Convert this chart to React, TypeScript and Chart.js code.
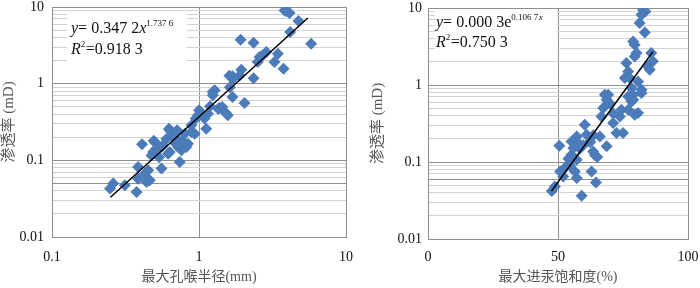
import React, { useEffect, useRef } from 'react';
import { Chart, registerables } from 'chart.js';

Chart.register(...registerables);

// ---------- Data (left chart: max pore-throat radius vs permeability) ----------
const poreRadius = [
  0.248, 0.261, 0.313, 0.376, 0.385, 0.385, 0.41, 0.428, 0.451, 0.463,
  0.44, 0.475, 0.487, 0.5, 0.492, 0.513, 0.535, 0.556, 0.556, 0.569,
  0.6, 0.616, 0.625, 0.632, 0.632, 0.667, 0.684, 0.695, 0.71, 0.72,
  0.74, 0.76, 0.771, 0.778, 0.8, 0.82, 0.842, 0.887, 0.888, 0.935,
  0.95, 0.985, 1.0, 1.04, 1.09, 1.12, 1.15, 1.19, 1.24, 1.24,
  1.28, 1.35, 1.38, 1.44, 1.53, 1.57, 1.62, 1.61, 1.69, 1.7,
  1.69, 1.89, 1.94, 2.04, 1.92, 2.35, 2.35, 2.51, 2.58, 2.87,
  2.72, 3.26, 3.44, 3.76, 3.82, 4.13, 3.95, 4.17, 4.75, 5.79,
];
const permeabilityA = [
  0.0428, 0.0497, 0.0472, 0.0386, 0.0577, 0.0818, 0.162, 0.067, 0.074, 0.055,
  0.052, 0.116, 0.128, 0.173, 0.18, 0.142, 0.11, 0.078, 0.149, 0.157,
  0.19, 0.122, 0.259, 0.246, 0.128, 0.202, 0.201, 0.165, 0.246, 0.149,
  0.095, 0.135, 0.18, 0.157, 0.223, 0.149, 0.165, 0.234, 0.286, 0.223,
  0.35, 0.386, 0.449, 0.406, 0.35, 0.259, 0.406, 0.506, 0.705, 0.78,
  0.82, 0.47, 0.48, 0.497, 0.41, 0.386, 0.9, 1.27, 1.25, 1.16,
  0.67, 1.28, 1.52, 0.56, 3.75, 3.42, 1.18, 1.92, 2.22, 2.58,
  2.34, 1.91, 2.46, 1.57, 9.03, 8.33, 8.8, 4.71, 6.55, 3.32,
];
const trendAX = [0.25, 5.5];
const trendAY = [0.033, 7.2];

// ---------- Data (right chart: max mercury saturation vs permeability) ----------
const saturation = [
  47.6, 48.8, 50.5, 50.8, 52.0, 52.7, 54.0, 55.2, 55.2, 55.9,
  56.5, 57.2, 57.2, 57.2, 57.8, 58.4, 59.1, 59.7, 60.3, 61.0,
  62.3, 62.9, 63.5, 64.2, 64.6, 65.1, 66.1, 66.7, 67.4, 68.7,
  68.7, 68.0, 69.3, 70.0, 71.2, 71.2, 72.5, 73.8, 74.4, 75.0,
  75.7, 76.3, 77.0, 77.0, 77.0, 77.6, 78.3, 78.3, 78.9, 78.9,
  78.9, 79.5, 79.5, 79.5, 80.2, 80.8, 80.8, 81.4, 82.1, 82.7,
  82.1, 82.1, 83.4, 83.6, 84.6, 85.3, 85.9, 86.5, 62.3, 63.6,
  54.6,
];
const permeabilityB = [
  0.042, 0.048, 0.163, 0.075, 0.065, 0.084, 0.11, 0.185, 0.124, 0.152,
  0.075, 0.215, 0.107, 0.062, 0.177, 0.149, 0.0365, 0.165, 0.305, 0.226,
  0.185, 0.075, 0.137, 0.122, 0.054, 0.116, 0.215, 0.391, 0.503, 0.16,
  0.644, 0.748, 0.748, 0.577, 0.321, 0.427, 0.238, 0.391, 0.478, 0.238,
  1.23, 1.93, 1.5, 0.478, 0.711, 1.23, 0.612, 0.914, 0.748, 3.68,
  0.644, 3.34, 2.35, 0.411, 2.6, 0.433, 1.11, 6.38, 8.19, 9.5,
  0.787, 0.869, 4.82, 9.0, 1.74, 1.58, 2.6, 2.03, 0.18, 0.223,
  0.09,
];
const trendBX = [47.5, 86.5];
const trendBY = [0.042, 2.7];

// ---------- Axis ticks / labels ----------
const yDecades = [0.01, 0.1, 1, 10];
const xTicksA = [0.1, 1, 10];
const xTicksB = [0, 50, 100];
const xTitleA = '最大孔喉半径(mm)';
const xTitleB = '最大进汞饱和度(%)';
const yTitle = '渗透率 (mD)';

const SERIF = "'Liberation Serif', 'Noto Sans CJK SC', serif";
const MAJOR = '#8e8e8e';
const MINOR = '#d3d3d3';
const POINT = '#4C7BBA';

const logGridValues = (decades: number[]) => {
  const out: number[] = [];
  for (let i = 0; i < decades.length - 1; i++) {
    for (let m = 1; m < 10; m++) out.push(Number((decades[i] * m).toPrecision(6)));
  }
  out.push(decades[decades.length - 1]);
  return out;
};
const isDecade = (v: number) => {
  const l = Math.log10(v);
  return Math.abs(l - Math.round(l)) < 1e-6;
};

type Seg = { t: string; i?: boolean; sup?: boolean };
type EqLine = { x: number; y: number; segs: Seg[] };

const equationPlugin = (box: { x: number; y: number; w: number; h: number }, lines: EqLine[]) => ({
  id: 'equationBox',
  beforeDatasetsDraw(chart: any) {
    const ctx = chart.ctx as CanvasRenderingContext2D;
    ctx.save();
    ctx.fillStyle = '#ffffff';
    ctx.fillRect(box.x, box.y, box.w, box.h);
    ctx.fillStyle = '#111111';
    ctx.textBaseline = 'alphabetic';
    ctx.textAlign = 'left';
    lines.forEach((line) => {
      let x = line.x;
      line.segs.forEach((s) => {
        const size = s.sup ? 9 : 16;
        ctx.font = `${s.i ? 'italic ' : ''}${size}px 'Liberation Serif', serif`;
        ctx.fillText(s.t, x, line.y - (s.sup ? 7 : 0));
        x += ctx.measureText(s.t).width + (s.sup ? 0.5 : 0);
      });
    });
    ctx.restore();
  },
});

const points = (xs: number[], ys: number[]) => xs.map((x, i) => ({ x, y: ys[i] }));

function buildConfig(p: {
  xType: 'logarithmic' | 'linear';
  xMin: number;
  xMax: number;
  xTicks: number[];
  xTitle: string;
  xs: number[];
  ys: number[];
  tx: number[];
  ty: number[];
  padTop: number;
  padRight: number;
  yWidth: number;
  xHeight: number;
  yTickPad: number;
  xTickPad: number;
  yTitlePad: number;
  emphasis: number;
  plugin: any;
}) {
  const yGrid = logGridValues(yDecades);
  return {
    type: 'scatter',
    data: {
      datasets: [
        {
          data: points(p.tx, p.ty),
          showLine: true,
          borderColor: '#000000',
          borderWidth: 1.5,
          pointRadius: 0,
          fill: false,
        },
        {
          data: points(p.xs, p.ys),
          pointStyle: 'rectRot',
          pointRadius: 6,
          backgroundColor: POINT,
          borderColor: POINT,
          borderWidth: 0,
        },
      ],
    },
    options: {
      responsive: false,
      animation: false,
      devicePixelRatio: 1,
      events: [],
      layout: { padding: { left: 0, top: p.padTop, right: p.padRight, bottom: 0 }, autoPadding: false },
      plugins: { legend: { display: false }, tooltip: { enabled: false } },
      scales: {
        x: {
          type: p.xType,
          min: p.xMin,
          max: p.xMax,
          afterBuildTicks: (s: any) => {
            s.ticks = p.xTicks.map((v) => ({ value: v }));
          },
          afterFit: (s: any) => {
            s.height = p.xHeight;
            s.paddingLeft = 0;
            s.paddingRight = 0;
          },
          ticks: {
            autoSkip: false,
            maxRotation: 0,
            padding: p.xTickPad,
            color: '#111111',
            font: { family: SERIF, size: 14 },
            callback: (v: any) => String(v),
          },
          grid: { color: MAJOR, drawTicks: false, lineWidth: 1 },
          border: { color: MAJOR, width: 1 },
          title: {
            display: true,
            text: p.xTitle,
            color: '#555555',
            font: { family: SERIF, size: 14 },
            padding: { top: 0, bottom: 2 },
          },
        },
        y: {
          type: 'logarithmic',
          min: 0.01,
          max: 10,
          afterBuildTicks: (s: any) => {
            s.ticks = yGrid.map((v) => ({ value: v }));
          },
          afterFit: (s: any) => {
            s.width = p.yWidth;
            s.paddingTop = 0;
            s.paddingBottom = 0;
          },
          ticks: {
            autoSkip: false,
            padding: p.yTickPad,
            color: '#111111',
            font: { family: SERIF, size: 14 },
            callback: (v: any) => (isDecade(Number(v)) ? String(v) : ''),
          },
          grid: {
            drawTicks: false,
            lineWidth: 1,
            color: (ctx: any) => {
              const v = ctx.tick ? ctx.tick.value : undefined;
              if (v === undefined) return MINOR;
              if (isDecade(v) || Math.abs(v - p.emphasis) < 1e-9) return MAJOR;
              return MINOR;
            },
          },
          border: { color: MAJOR, width: 1 },
          title: {
            display: true,
            text: yTitle,
            color: '#555555',
            font: { family: SERIF, size: 15 },
            padding: { top: p.yTitlePad, bottom: 0 },
          },
        },
      },
    },
    plugins: [p.plugin],
  } as any;
}

export default function App() {
  const leftRef = useRef<HTMLCanvasElement | null>(null);
  const rightRef = useRef<HTMLCanvasElement | null>(null);

  useEffect(() => {
    if (!leftRef.current || !rightRef.current) return;
    const left = new Chart(
      leftRef.current,
      buildConfig({
        xType: 'logarithmic',
        xMin: 0.1,
        xMax: 10,
        xTicks: xTicksA,
        xTitle: xTitleA,
        xs: poreRadius,
        ys: permeabilityA,
        tx: trendAX,
        ty: trendAY,
        padTop: 7,
        padRight: 14,
        yWidth: 52,
        xHeight: 51,
        yTickPad: 8,
        xTickPad: 12,
        yTitlePad: 0,
        emphasis: 0.05,
        plugin: equationPlugin({ x: 67, y: 11, w: 120, h: 50 }, [
          { x: 71, y: 33, segs: [{ t: 'y', i: true }, { t: '= 0.347 2' }, { t: 'x', i: true }, { t: '1.737 6', sup: true }] },
          { x: 71, y: 54, segs: [{ t: 'R', i: true }, { t: '2', sup: true }, { t: '=0.918 3' }] },
        ]),
      })
    );
    const right = new Chart(
      rightRef.current,
      buildConfig({
        xType: 'linear',
        xMin: 0,
        xMax: 100,
        xTicks: xTicksB,
        xTitle: xTitleB,
        xs: saturation,
        ys: permeabilityB,
        tx: trendBX,
        ty: trendBY,
        padTop: 8,
        padRight: 12,
        yWidth: 78,
        xHeight: 49,
        yTickPad: 6,
        xTickPad: 10,
        yTitlePad: 19,
        emphasis: 0.06,
        plugin: equationPlugin({ x: 85, y: 9, w: 122, h: 49 }, [
          { x: 86, y: 27, segs: [{ t: 'y', i: true }, { t: '= 0.000 3e' }, { t: '0.106 7', sup: true }, { t: 'x', i: true, sup: true }] },
          { x: 86, y: 47, segs: [{ t: 'R', i: true }, { t: '2', sup: true }, { t: '=0.750 3' }] },
        ]),
      })
    );
    return () => {
      left.destroy();
      right.destroy();
    };
  }, []);

  return (
    <div style={{ position: 'fixed', left: 0, top: 0, width: 700, height: 288, background: '#ffffff' }}>
      <canvas ref={leftRef} width={360} height={288} style={{ position: 'absolute', left: 0, top: 0, width: 360, height: 288 }} />
      <canvas ref={rightRef} width={350} height={288} style={{ position: 'absolute', left: 350, top: 0, width: 350, height: 288 }} />
    </div>
  );
}
